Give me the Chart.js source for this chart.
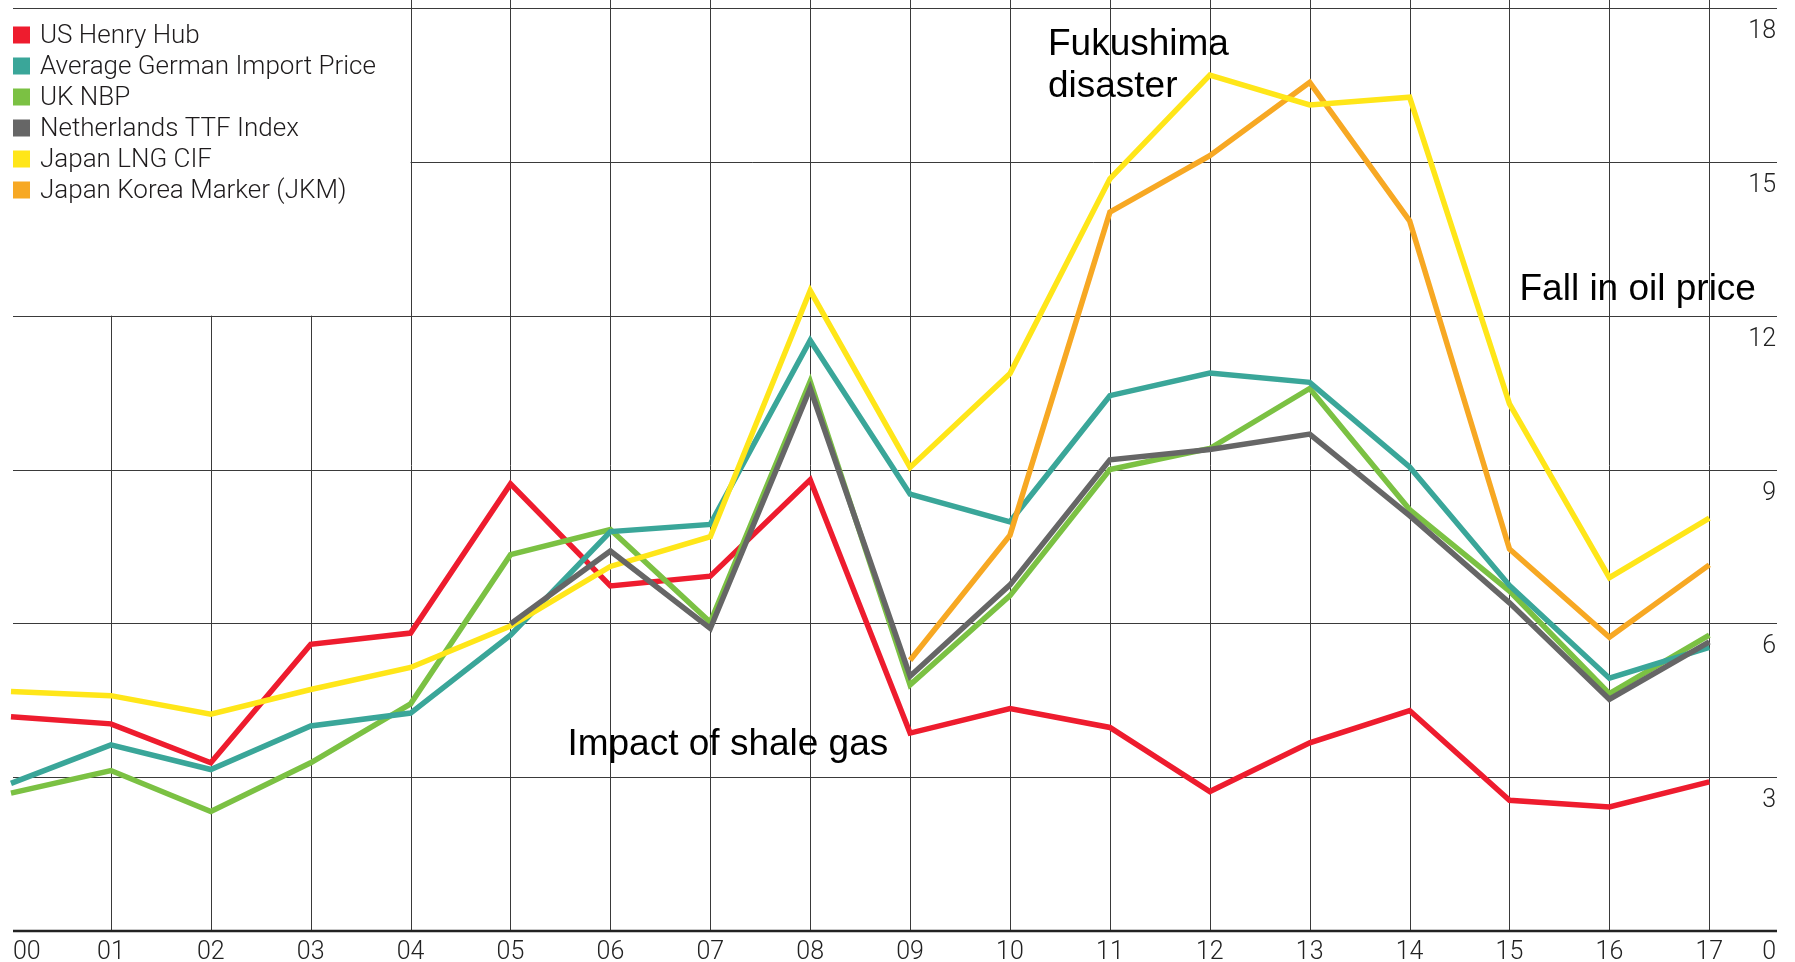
<!DOCTYPE html>
<html>
<head>
<meta charset="utf-8">
<script src="https://cdn.jsdelivr.net/npm/chart.js@4.4.1/dist/chart.umd.min.js"></script>
<style>
  body { margin: 0; background: #fff; }
  canvas { display: block; }
</style>
</head>
<body>
<canvas id="gasChart" width="1795" height="962"></canvas>
<script>
const years = ['00', '01', '02', '03', '04', '05', '06', '07', '08', '09',
               '10', '11', '12', '13', '14', '15', '16', '17'];
const priceTicks = [0, 3, 6, 9, 12, 15, 18];

// US$/MMBtu, yearly averages
const henryHub     = [4.18, 4.04, 3.28, 5.59, 5.81, 8.72, 6.73, 6.92, 8.80, 3.86, 4.34, 3.97, 2.72, 3.67, 4.30, 2.55, 2.42, 2.91];
const germanImport = [2.88, 3.63, 3.15, 4.00, 4.25, 5.77, 7.79, 7.93, 11.52, 8.52, 7.98, 10.44, 10.88, 10.70, 9.05, 6.74, 4.93, 5.53];
const ukNbp        = [2.69, 3.13, 2.33, 3.28, 4.43, 7.34, 7.83, 6.02, 10.72, 4.80, 6.54, 9.00, 9.41, 10.58, 8.22, 6.63, 4.63, 5.77];
const ttfIndex     = [null, null, null, null, null, 5.99, 7.41, 5.90, 10.58, 4.97, 6.75, 9.19, 9.39, 9.69, 8.10, 6.40, 4.52, 5.64];
const japanLng     = [4.67, 4.59, 4.23, 4.71, 5.14, 5.95, 7.11, 7.69, 12.49, 9.04, 10.87, 14.67, 16.69, 16.11, 16.26, 10.28, 6.89, 8.05];
const jkm          = [null, null, null, null, null, null, null, null, null, 5.28, 7.72, 14.02, 15.12, 16.55, 13.85, 7.45, 5.73, 7.14];

const notes = [
  { text: 'Fukushima', x: 10.38, y: 17.08 },
  { text: 'disaster', x: 10.38, y: 16.26 },
  { text: 'Fall in oil price', x: 15.10, y: 12.30 },
  { text: 'Impact of shale gas', x: 5.57, y: 3.44 }
];

const tickFont = '300 25px Roboto, "Liberation Sans", sans-serif';
const legendFont = '300 26px Roboto, "Liberation Sans", sans-serif';
const toPoints = values => values.map((v, i) => ({ x: i, y: v }));

const series = [
  { label: 'US Henry Hub', data: henryHub, color: '#ee1c2e', order: 5 },
  { label: 'Average German Import Price', data: germanImport, color: '#3aa699', order: 3 },
  { label: 'UK NBP', data: ukNbp, color: '#7bc143', order: 4 },
  { label: 'Netherlands TTF Index', data: ttfIndex, color: '#666666', order: 0 },
  { label: 'Japan LNG CIF', data: japanLng, color: '#ffe619', order: 1 },
  { label: 'Japan Korea Marker (JKM)', data: jkm, color: '#f7a823', order: 2 }
];

const gridLeft = 13;
const gridRight = 1777;

const gridPlugin = {
  id: 'grid',
  beforeDatasetsDraw(chart) {
    const { ctx, scales: { x, y } } = chart;
    const bottom = y.getPixelForValue(0);
    ctx.save();
    ctx.strokeStyle = '#3a3a3a';
    ctx.lineWidth = 1;
    ctx.beginPath();
    priceTicks.forEach(t => {
      if (t === 0) return;
      const py = Math.round(y.getPixelForValue(t)) + 0.5;
      // the 15 line stops at the legend box
      const startX = t === 15 ? x.getPixelForValue(4) : gridLeft;
      ctx.moveTo(startX, py);
      ctx.lineTo(gridRight, py);
    });
    years.forEach((_, i) => {
      if (i === 0) return;
      const px = Math.round(x.getPixelForValue(i)) + 0.5;
      const top = i < 4 ? y.getPixelForValue(12) : 0;
      ctx.moveTo(px, top);
      ctx.lineTo(px, bottom);
    });
    ctx.stroke();

    ctx.strokeStyle = '#222';
    ctx.lineWidth = 2.5;
    ctx.beginPath();
    ctx.moveTo(gridLeft, Math.round(bottom));
    ctx.lineTo(gridRight, Math.round(bottom));
    ctx.stroke();
    ctx.restore();
  }
};

const labelPlugin = {
  id: 'labels',
  afterDraw(chart) {
    const { ctx, scales: { x, y } } = chart;
    const tickBaseline = 959;
    const rightEdge = 1776;
    ctx.save();
    ctx.fillStyle = '#222';
    ctx.font = tickFont;
    ctx.textBaseline = 'alphabetic';

    // year labels along the bottom
    years.forEach((yr, i) => {
      ctx.textAlign = i === 0 ? 'left' : 'center';
      ctx.fillText(yr, i === 0 ? 13 : x.getPixelForValue(i), tickBaseline);
    });

    // price labels on the right, sitting under each line
    ctx.textAlign = 'right';
    priceTicks.forEach(t => {
      const py = t === 0 ? tickBaseline : y.getPixelForValue(t) + 30;
      ctx.fillText(String(t), rightEdge, py);
    });

    // legend
    ctx.font = legendFont;
    ctx.textAlign = 'left';
    ctx.textBaseline = 'middle';
    chart.data.datasets.forEach((ds, i) => {
      const rowY = 35 + i * 31;
      ctx.fillStyle = ds.borderColor;
      ctx.fillRect(13, rowY - 8.5, 17, 17);
      ctx.fillStyle = '#1e1b1c';
      ctx.fillText(ds.label, 40, rowY + 1);
    });

    // annotations
    ctx.fillStyle = '#000';
    ctx.font = '37px "Liberation Sans", Arial, sans-serif';
    ctx.textBaseline = 'alphabetic';
    notes.forEach(n => {
      ctx.fillText(n.text, x.getPixelForValue(n.x), y.getPixelForValue(n.y));
    });
    ctx.restore();
  }
};

new Chart(document.getElementById('gasChart'), {
  type: 'line',
  data: {
    datasets: series.map(s => ({
      label: s.label,
      data: toPoints(s.data),
      borderColor: s.color,
      backgroundColor: s.color,
      borderWidth: 5.5,
      borderJoinStyle: 'miter',
      borderCapStyle: 'butt',
      pointRadius: 0,
      tension: 0,
      order: s.order
    }))
  },
  options: {
    responsive: false,
    animation: false,
    devicePixelRatio: 1,
    layout: { padding: 0 },
    plugins: {
      legend: { display: false },
      tooltip: { enabled: false }
    },
    scales: {
      x: { type: 'linear', display: false, min: -0.110, max: 17.858 },
      y: { type: 'linear', display: false, min: -0.604, max: 18.156 }
    }
  },
  plugins: [gridPlugin, labelPlugin]
});
</script>
</body>
</html>
